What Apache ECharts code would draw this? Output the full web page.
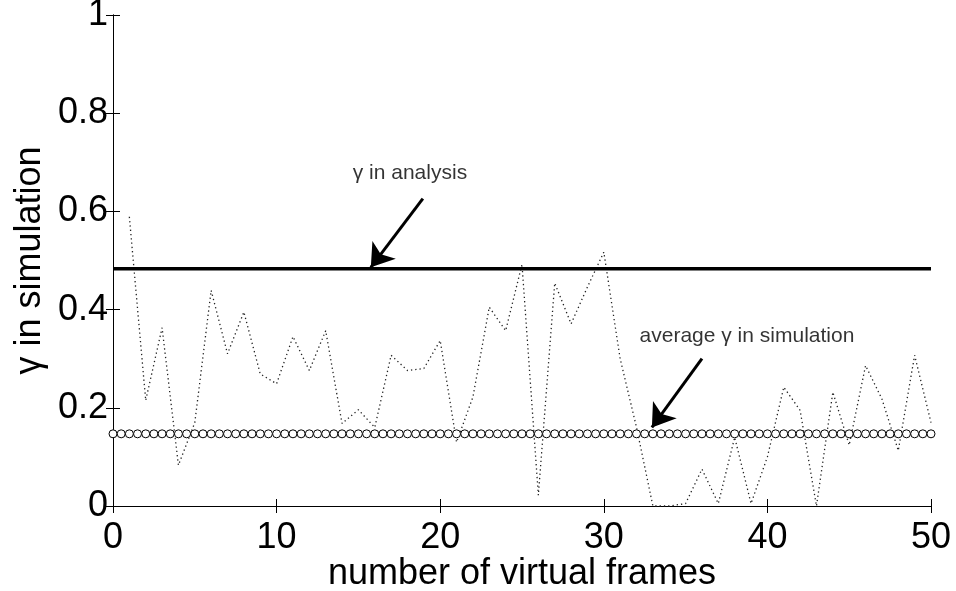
<!DOCTYPE html>
<html>
<head>
<meta charset="utf-8">
<script src="https://cdn.jsdelivr.net/npm/echarts@6/dist/echarts.min.js"></script>
<style>html,body{margin:0;padding:0;background:#fff;}#chart{width:956px;height:591px;}</style>
</head>
<body>
<div id="chart"></div>
<script>
// ---- data ----
var xTicks = [0, 10, 20, 30, 40, 50];
var yTicks = [0, 0.2, 0.4, 0.6, 0.8, 1];
var simX = [1,2,3,4,5,6,7,8,9,10,11,12,13,14,15,16,17,18,19,20,21,22,23,24,25,26,27,28,29,30,31,32,33,34,35,36,37,38,39,40,41,42,43,44,45,46,47,48,49,50];
var simY = [0.589,0.215,0.363,0.083,0.17,0.439,0.31,0.395,0.269,0.249,
            0.345,0.276,0.357,0.168,0.196,0.16,0.307,0.276,0.28,0.337,
            0.13,0.222,0.405,0.357,0.492,0.022,0.454,0.371,0.446,0.517,
            0.30,0.16,0.0,0.0,0.005,0.075,0.005,0.14,0.005,0.10,
            0.242,0.195,0.0,0.232,0.124,0.286,0.218,0.113,0.307,0.17];
var analysisValue = 0.483;
var analysisX = [0, 50];
var avgValue = 0.147;
var avgX = [0,0.5,1,1.5,2,2.5,3,3.5,4,4.5,5,5.5,6,6.5,7,7.5,8,8.5,9,9.5,
            10,10.5,11,11.5,12,12.5,13,13.5,14,14.5,15,15.5,16,16.5,17,17.5,18,18.5,19,19.5,
            20,20.5,21,21.5,22,22.5,23,23.5,24,24.5,25,25.5,26,26.5,27,27.5,28,28.5,29,29.5,
            30,30.5,31,31.5,32,32.5,33,33.5,34,34.5,35,35.5,36,36.5,37,37.5,38,38.5,39,39.5,
            40,40.5,41,41.5,42,42.5,43,43.5,44,44.5,45,45.5,46,46.5,47,47.5,48,48.5,49,49.5,50];
var annotTexts = ['γ in analysis', 'average γ in simulation'];
var annotPos = [[18.15, 0.677], [38.75, 0.346]];
var arrowCoords = [
  [[18.94, 0.626], [15.76, 0.486]],
  [[36.0, 0.30], [32.94, 0.16]]
];
var xName = 'number of virtual frames';
var yName = 'γ in simulation';

// ---- build ----
var FONT = '"Liberation Sans", Arial, Helvetica, sans-serif';
var chart = echarts.init(document.getElementById('chart'), null, {renderer: 'canvas'});
var simData = simX.map(function (x, i) { return [x, simY[i]]; });
var anaData = analysisX.map(function (x) { return [x, analysisValue]; });
var avgData = avgX.map(function (x) { return [x, avgValue]; });
var annotData = annotTexts.map(function (t, i) { return {value: annotPos[i], name: t}; });
var arrowData = arrowCoords.map(function (c) { return {coords: c}; });

var axisLine = {show: true, lineStyle: {color: '#000', width: 1}};
var option = {
  animation: false,
  backgroundColor: '#fff',
  grid: {left: 113, right: 25, top: 15, bottom: 85, containLabel: false, outerBoundsMode: 'none'},
  xAxis: [{
    type: 'value', min: 0, max: 50, interval: 10,
    axisLine: axisLine,
    axisTick: {show: true, inside: true, length: 7, lineStyle: {color: '#000'}},
    axisLabel: {color: '#000', fontSize: 36, fontFamily: FONT, margin: 14},
    splitLine: {show: false},
    name: xName, nameLocation: 'middle', nameGap: 50, nameMoveOverlap: false,
    nameTextStyle: {color: '#000', fontSize: 36, fontFamily: FONT}
  }, {
    type: 'value', min: 0, max: 50, interval: 10, position: 'top',
    axisLine: axisLine,
    axisTick: {show: true, inside: true, length: 7, lineStyle: {color: '#000'}},
    axisLabel: {show: false}, splitLine: {show: false}
  }],
  yAxis: [{
    type: 'value', min: 0, max: 1, interval: 0.2,
    axisLine: axisLine,
    axisTick: {show: true, inside: true, length: 7, lineStyle: {color: '#000'}},
    axisLabel: {color: '#000', fontSize: 36, fontFamily: FONT, margin: 5},
    splitLine: {show: false},
    name: yName, nameLocation: 'middle', nameGap: 65, nameMoveOverlap: false,
    nameTextStyle: {color: '#000', fontSize: 36, fontFamily: FONT}
  }, {
    type: 'value', min: 0, max: 1, interval: 0.2, position: 'right',
    axisLine: axisLine,
    axisTick: {show: true, inside: true, length: 7, lineStyle: {color: '#000'}},
    axisLabel: {show: false}, splitLine: {show: false}
  }],
  series: [
    {
      type: 'line', data: simData, symbol: 'none', silent: true,
      lineStyle: {color: '#222', width: 1.3, type: [1.3, 3]}
    },
    {
      type: 'line', data: anaData, symbol: 'none', silent: true,
      lineStyle: {color: '#000', width: 3.5}
    },
    {
      type: 'line', data: avgData, symbol: 'circle', symbolSize: 8, showAllSymbol: true, silent: true,
      lineStyle: {width: 0},
      itemStyle: {color: '#fff', borderColor: '#000', borderWidth: 1}
    },
    {
      type: 'lines', coordinateSystem: 'cartesian2d', data: arrowData, silent: true,
      symbol: ['none', 'arrow'], symbolSize: [0, 22],
      lineStyle: {color: '#000', width: 3, opacity: 1, curveness: 0}
    },
    {
      type: 'scatter', data: annotData, symbolSize: 0, silent: true,
      label: {show: true, position: 'inside', formatter: '{b}', color: '#000', fontSize: 21, fontFamily: FONT}
    }
  ]
};
chart.setOption(option);
</script>
</body>
</html>
